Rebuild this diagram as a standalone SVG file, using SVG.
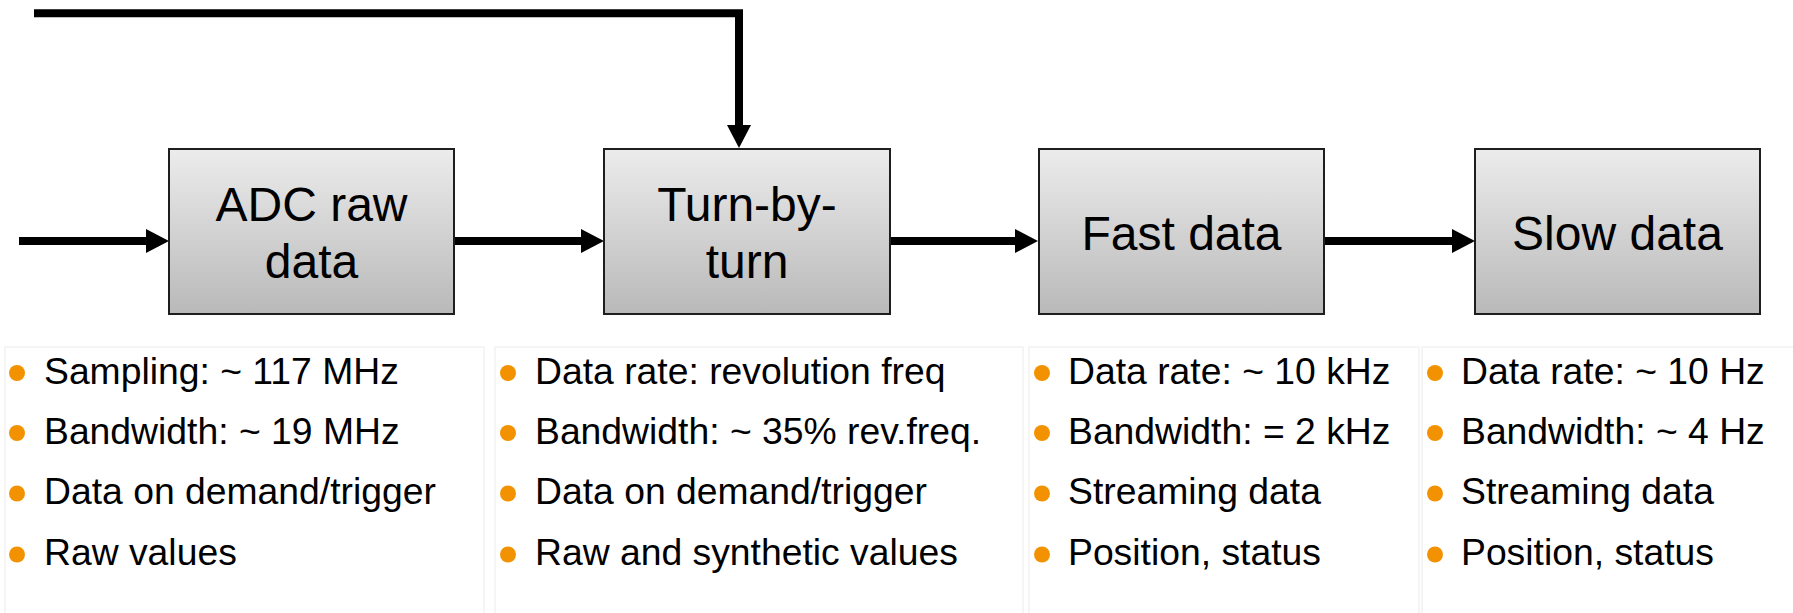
<svg xmlns="http://www.w3.org/2000/svg" width="1793" height="613" viewBox="0 0 1793 613">
  <style>
    .box { stroke: #1e1e1e; stroke-width: 2; fill: url(#boxFill); }
    .label { font-family: "Liberation Sans", Arial, sans-serif; font-size: 48px; fill: #000; text-anchor: middle; }
    .item { font-family: "Liberation Sans", Arial, sans-serif; font-size: 37.3px; fill: #000; }
    .dot { fill: #f39200; }
    .panel { fill: none; stroke: #f2f2f2; stroke-width: 1.5; }
    .wire { fill: none; stroke: #000; stroke-width: 8; }
  </style>
  <defs>
    <linearGradient id="boxFill" x1="0" y1="0" x2="0" y2="1">
      <stop offset="0" stop-color="#ececec"/>
      <stop offset="1" stop-color="#b9b9b9"/>
    </linearGradient>
    <marker id="head" viewBox="0 0 23 24" markerWidth="23" markerHeight="24" refX="0" refY="12" markerUnits="userSpaceOnUse" orient="auto">
      <polygon points="0,0 23,12 0,24" fill="#000"/>
    </marker>
  </defs>

  <rect width="1793" height="613" fill="#fff"/>

  <!-- connectors -->
  <g id="connectors">
    <path class="wire" d="M34 13.3 H739 V125" stroke-width="7.5" stroke-linejoin="miter" marker-end="url(#head)"/>
    <path class="wire" d="M19 241 H146" marker-end="url(#head)"/>
    <path class="wire" d="M454 241 H581" marker-end="url(#head)"/>
    <path class="wire" d="M890 241 H1015" marker-end="url(#head)"/>
    <path class="wire" d="M1324 241 H1452" marker-end="url(#head)"/>
  </g>

  <!-- processing stages -->
  <g id="adc-raw">
    <rect class="box" x="169" y="149" width="285" height="165"/>
    <text class="label" x="311.5" y="221">ADC raw</text>
    <text class="label" x="311.5" y="278">data</text>
  </g>
  <g id="turn-by-turn">
    <rect class="box" x="604" y="149" width="286" height="165"/>
    <text class="label" x="747" y="221">Turn-by-</text>
    <text class="label" x="747" y="278">turn</text>
  </g>
  <g id="fast-data">
    <rect class="box" x="1039" y="149" width="285" height="165"/>
    <text class="label" x="1181.5" y="250">Fast data</text>
  </g>
  <g id="slow-data">
    <rect class="box" x="1475" y="149" width="285" height="165"/>
    <text class="label" x="1617.5" y="250">Slow data</text>
  </g>

  <!-- property lists -->
  <g id="adc-props">
    <rect class="panel" x="5" y="347" width="479" height="280"/>
    <circle class="dot" cx="17" cy="373" r="8"/>
    <circle class="dot" cx="17" cy="433" r="8"/>
    <circle class="dot" cx="17" cy="493.5" r="8"/>
    <circle class="dot" cx="17" cy="554.5" r="8"/>
    <text class="item" x="44" y="384">Sampling: ~ 117 MHz</text>
    <text class="item" x="44" y="444">Bandwidth: ~ 19 MHz</text>
    <text class="item" x="44" y="504">Data on demand/trigger</text>
    <text class="item" x="44" y="565">Raw values</text>
  </g>
  <g id="tbt-props">
    <rect class="panel" x="495" y="347" width="528" height="280"/>
    <circle class="dot" cx="508" cy="373" r="8"/>
    <circle class="dot" cx="508" cy="433" r="8"/>
    <circle class="dot" cx="508" cy="493.5" r="8"/>
    <circle class="dot" cx="508" cy="554.5" r="8"/>
    <text class="item" x="535" y="384">Data rate: revolution freq</text>
    <text class="item" x="535" y="444">Bandwidth: ~ 35% rev.freq.</text>
    <text class="item" x="535" y="504">Data on demand/trigger</text>
    <text class="item" x="535" y="565">Raw and synthetic values</text>
  </g>
  <g id="fast-props">
    <rect class="panel" x="1029" y="347" width="390" height="280"/>
    <circle class="dot" cx="1042" cy="373" r="8"/>
    <circle class="dot" cx="1042" cy="433" r="8"/>
    <circle class="dot" cx="1042" cy="493.5" r="8"/>
    <circle class="dot" cx="1042" cy="554.5" r="8"/>
    <text class="item" x="1068" y="384">Data rate: ~ 10 kHz</text>
    <text class="item" x="1068" y="444">Bandwidth: = 2 kHz</text>
    <text class="item" x="1068" y="504">Streaming data</text>
    <text class="item" x="1068" y="565">Position, status</text>
  </g>
  <g id="slow-props">
    <rect class="panel" x="1422" y="347" width="390" height="280"/>
    <circle class="dot" cx="1435" cy="373" r="8"/>
    <circle class="dot" cx="1435" cy="433" r="8"/>
    <circle class="dot" cx="1435" cy="493.5" r="8"/>
    <circle class="dot" cx="1435" cy="554.5" r="8"/>
    <text class="item" x="1461" y="384">Data rate: ~ 10 Hz</text>
    <text class="item" x="1461" y="444">Bandwidth: ~ 4 Hz</text>
    <text class="item" x="1461" y="504">Streaming data</text>
    <text class="item" x="1461" y="565">Position, status</text>
  </g>
</svg>
